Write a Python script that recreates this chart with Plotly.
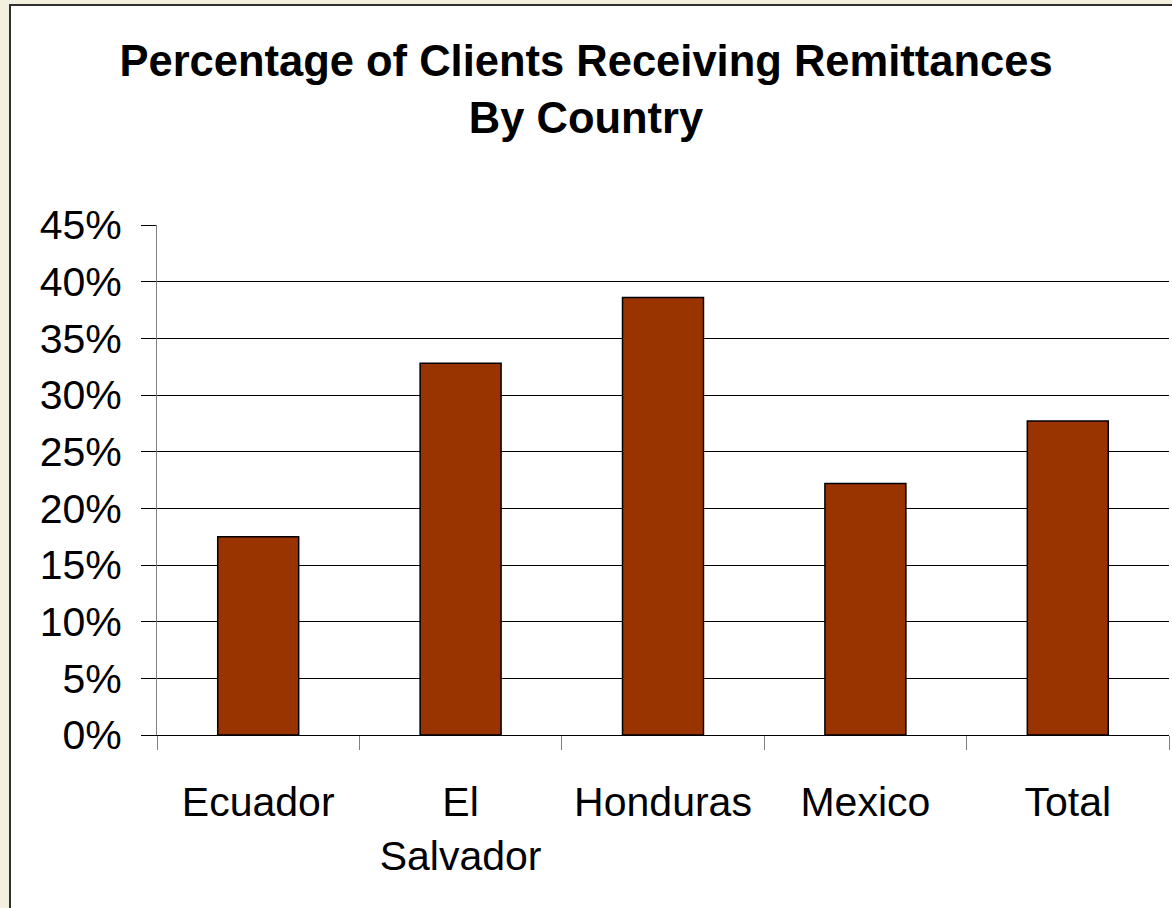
import plotly.graph_objects as go

categories = ["Ecuador", "El<br>Salvador", "Honduras", "Mexico", "Total"]
values = [0.175, 0.328, 0.386, 0.222, 0.277]
y_ticks = [0, 0.05, 0.10, 0.15, 0.20, 0.25, 0.30, 0.35, 0.40, 0.45]
y_tick_labels = ["0%", "5%", "10%", "15%", "20%", "25%", "30%", "35%", "40%", "45%"]

W, H = 1172, 908
L, R, T, B = 157, 3, 225, 173
FONT = "Liberation Sans, Arial, sans-serif"

fig = go.Figure()
fig.add_trace(go.Bar(
    x=categories, y=values,
    marker=dict(color="#993300", line=dict(color="black", width=1.5)),
    width=0.4,
))

pw, ph = W - L - R, H - T - B

fig.update_layout(
    width=W, height=H,
    paper_bgcolor="#F4F0E0",
    plot_bgcolor="rgba(0,0,0,0)",
    margin=dict(l=L, r=R, t=T, b=B, pad=0),
    showlegend=False,
    font=dict(family=FONT, color="black", size=40),
    title=dict(
        text="<b>Percentage of Clients Receiving Remittances<br>By Country</b>",
        x=0.5, xanchor="center", xref="container",
        y=1 - 76 / H, yanchor="top", yref="container",
        font=dict(family=FONT, size=43.5, color="black"),
    ),
    shapes=[dict(
        type="rect", xref="paper", yref="paper", layer="below",
        x0=(10 - L) / pw, x1=1.05, y0=-0.5, y1=1 + (T - 5) / ph,
        fillcolor="white", line=dict(color="#303030", width=2),
    )],
)

fig.update_xaxes(
    type="category", tickson="boundaries",
    showline=True, linecolor="black", linewidth=1,
    ticks="outside", ticklen=14, tickcolor="#808080", tickwidth=1,
    showgrid=False, ticklabelstandoff=31,
    tickfont=dict(family=FONT, size=41, color="black"),
)
fig.update_yaxes(
    range=[0, 0.45], tickvals=y_ticks, ticktext=y_tick_labels,
    showline=True, linecolor="#808080", linewidth=1,
    ticks="outside", ticklen=15, tickcolor="black", tickwidth=1,
    showgrid=True, gridcolor="black", gridwidth=1, zeroline=False,
    ticklabelstandoff=11,
    tickfont=dict(family=FONT, size=41, color="black"),
)

fig.write_html(
    "out.html",
    config={"displayModeBar": False},
    post_script="document.body.style.margin='0';document.body.style.background='#F4F0E0';",
)
